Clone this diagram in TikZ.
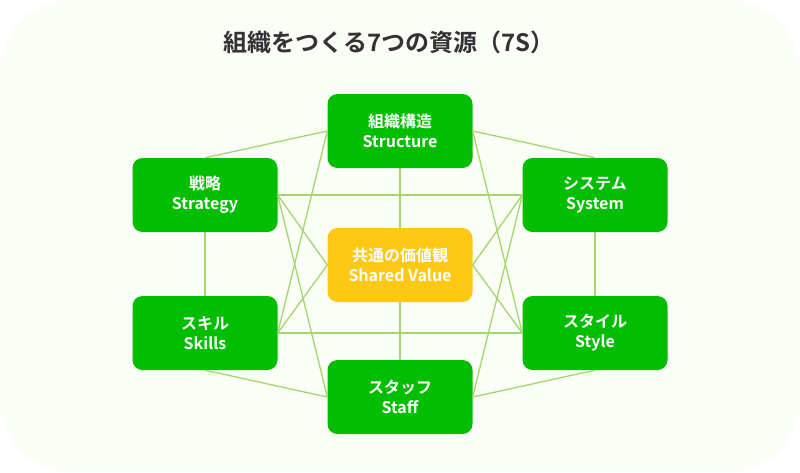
\documentclass[tikz,border=0pt]{standalone}
\usepackage{fontspec}
\setmainfont{Noto Sans CJK JP}[BoldFont={Noto Sans CJK JP Bold}]
\definecolor{boxgreen}{HTML}{02BE02}
\definecolor{boxyellow}{HTML}{FFC815}
\definecolor{linkgreen}{HTML}{A3D66C}
\definecolor{bgpale}{HTML}{FBFDF7}
\definecolor{titlegrey}{HTML}{333333}
\begin{document}
\begin{tikzpicture}[x=1pt,y=-1pt,
  sbox/.style={rectangle, rounded corners=10pt, minimum width=145pt, minimum height=74pt,
    align=center, text=white, font=\bfseries\fontsize{16}{20}\selectfont, inner sep=0pt},
  gbox/.style={sbox, fill=boxgreen},
  ybox/.style={sbox, fill=boxyellow},
  link/.style={draw=linkgreen, line width=1.3pt}]
\useasboundingbox (0,0) rectangle (800,472);
\fill[white] (0,0) rectangle (800,472);
\fill[bgpale, rounded corners=72pt] (0,0) rectangle (800,472);
\node[text=titlegrey, font=\bfseries\fontsize{24}{28}\selectfont] (title) at (389,42) {組織をつくる7つの資源（7S）};
\node[gbox] (structure) at (400,131) {組織構造\\Structure};
\node[gbox] (strategy) at (205,195) {戦略\\Strategy};
\node[gbox] (system) at (595,195) {システム\\System};
\node[ybox] (shared) at (400,265) {共通の価値観\\Shared Value};
\node[gbox] (skills) at (205,333) {スキル\\Skills};
\node[gbox] (style) at (595,333) {スタイル\\Style};
\node[gbox] (staff) at (400,397) {スタッフ\\Staff};
\draw[link] (strategy.north) -- (structure.west);
\draw[link] (structure.east) -- (system.north);
\draw[link] (strategy.south) -- (skills.north);
\draw[link] (system.south) -- (style.north);
\draw[link] (skills.south) -- (staff.west);
\draw[link] (style.south) -- (staff.east);
\draw[link] (structure.south) -- (shared.north);
\draw[link] (shared.south) -- (staff.north);
\draw[link] (strategy.east) -- (system.west);
\draw[link] (skills.east) -- (style.west);
\draw[link] (strategy.east) -- (shared.west);
\draw[link] (skills.east) -- (shared.west);
\draw[link] (system.west) -- (shared.east);
\draw[link] (style.west) -- (shared.east);
\draw[link] (structure.west) -- (skills.east);
\draw[link] (structure.east) -- (style.west);
\draw[link] (strategy.east) -- (staff.west);
\draw[link] (system.west) -- (staff.east);
\end{tikzpicture}
\end{document}
